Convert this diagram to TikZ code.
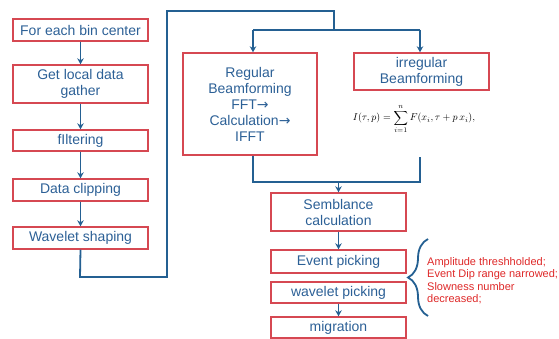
\documentclass[tikz,border=0pt]{standalone}
\usepackage{fontspec}
\setmainfont{Liberation Sans}
\newfontfamily\arrowfont{DejaVu Sans}
\usetikzlibrary{arrows.meta,decorations.pathreplacing}
\definecolor{boxred}{RGB}{214,72,82}
\definecolor{flowblue}{RGB}{36,96,146}
\definecolor{txtblue}{RGB}{44,96,150}
\definecolor{notered}{RGB}{222,40,40}
\newcommand{\thenarrow}{{\arrowfont →}}
\tikzset{
  stepbox/.style={draw=boxred, line width=1.4pt, text=txtblue, align=center,
    font=\fontsize{14}{16}\selectfont, inner sep=0pt, minimum width=135pt},
  flow/.style={draw=flowblue, line width=1.8pt},
  arr/.style={flow, -{Stealth[width=6.5pt,length=6pt]}},
}
\begin{document}
\begin{tikzpicture}[x=1pt,y=-1pt]
\useasboundingbox (0,0) rectangle (559,339);

% preprocessing column
\node[stepbox, minimum height=22pt] (b1) at (80.5,30) {For each bin center};
\node[stepbox, minimum height=38pt] (b2) at (80.5,84) {Get local data\\gather};
\node[stepbox, minimum height=21pt] (b3) at (80.5,140.5) {fIltering};
\node[stepbox, minimum height=22pt] (b4) at (80.5,190) {Data clipping};
\node[stepbox, minimum height=22pt] (b5) at (80.5,238) {Wavelet shaping};

\draw[arr] (b1) -- (b2);
\draw[arr] (b2) -- (b3);
\draw[arr] (b3) -- (b4);
\draw[arr] (b4) -- (b5);

% beamforming
\node[stepbox, minimum width=134pt, minimum height=102pt] (reg) at (250,104)
  {Regular\\Beamforming\\FFT\thenarrow\\Calculation\thenarrow\\IFFT};
\node[stepbox, minimum height=37pt] (irr) at (421.5,71.5) {irregular\\Beamforming};
\node[font=\fontsize{10}{12}\selectfont, inner sep=0pt] (eq) at (414,119)
  {$\displaystyle I(\tau,p)=\sum_{i=1}^{n} F(x_i,\tau+p\,x_i),$};

% loop from the preprocessing column to the beamforming branches
\coordinate (l1) at (80,277);
\coordinate (l2) at (167,277);
\coordinate (l3) at (167,11);
\coordinate (l4) at (334,11);
\coordinate (split) at (334,30);
\coordinate (sl) at (253,30);
\coordinate (sr) at (420,30);
\draw[flow] (b5.south) -- (l1) -- (l2) -- (l3) -- (l4) -- (split);
\draw[flow] (sl) -- (sr);
\draw[arr] (sl) -- (sl |- reg.north);
\draw[arr] (sr) -- (sr |- irr.north);

% merge into semblance
\node[stepbox, minimum height=38pt] (sem) at (338.5,212) {Semblance\\calculation};
\coordinate (ml) at (253,182);
\coordinate (mr) at (420,182);
\coordinate (mm) at (338.5,182);
\draw[flow] (ml |- reg.south) -- (ml) -- (mr) -- (420,157);
\draw[arr] (mm) -- (sem.north);

% picking and migration
\node[stepbox, minimum height=23pt] (ev) at (338.5,261.5) {Event picking};
\node[stepbox, minimum height=21pt] (wp) at (338.5,292.5) {wavelet picking};
\node[stepbox, minimum height=21pt] (mig) at (338.5,327.5) {migration};
\draw[arr] (sem) -- (ev);
\draw[arr] (wp) -- (mig);

% picking constraints
\coordinate (bt) at (428,239);
\coordinate (bb) at (428,316);
\draw[flow, decorate, decoration={brace, amplitude=20pt}] (bb) -- (bt);
\node[anchor=north west, inner sep=0pt, align=left, text=notered,
  font=\fontsize{11}{12.5}\selectfont] (note) at (427,257)
  {Amplitude threshholded;\\Event Dip range narrowed;\\Slowness number\\decreased;};
\end{tikzpicture}
\end{document}
